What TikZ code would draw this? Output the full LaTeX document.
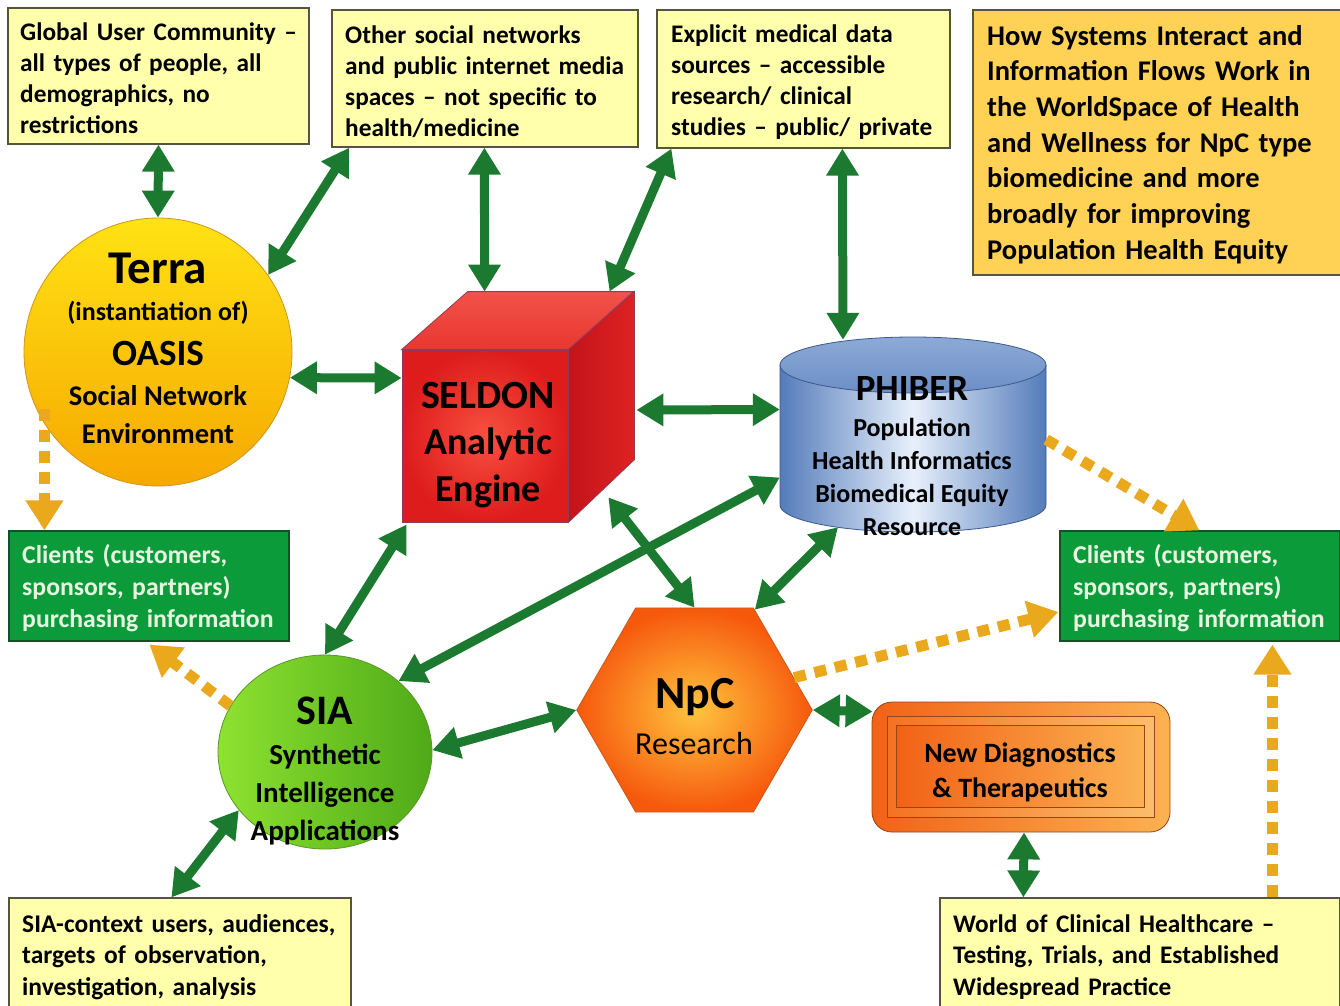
\documentclass[tikz,border=0pt]{standalone}
\usepackage{fontspec}
\setmainfont{Carlito}
\usetikzlibrary{arrows.meta,calc,shapes.geometric}
\definecolor{ylw}{RGB}{255,255,172}
\definecolor{ybord}{RGB}{85,85,60}
\definecolor{ttl}{RGB}{255,210,85}
\definecolor{gfill}{RGB}{12,155,58}
\definecolor{gbord}{RGB}{20,80,35}
\definecolor{gtext}{RGB}{232,245,225}
\definecolor{garr}{RGB}{28,122,48}
\definecolor{oarr}{RGB}{234,168,28}
\definecolor{terraA}{RGB}{255,226,20}
\definecolor{terraB}{RGB}{246,168,0}
\definecolor{terraL}{RGB}{205,150,30}
\definecolor{redA}{RGB}{248,80,64}
\definecolor{redB}{RGB}{222,28,28}
\definecolor{redTop}{RGB}{242,82,72}
\definecolor{redTop2}{RGB}{232,55,48}
\definecolor{redSide}{RGB}{195,20,26}
\definecolor{redSide2}{RGB}{222,34,34}
\definecolor{redL}{RGB}{140,60,90}
\definecolor{blueA}{RGB}{84,124,186}
\definecolor{blueB}{RGB}{232,240,252}
\definecolor{blueTop}{RGB}{140,170,214}
\definecolor{blueTop2}{RGB}{108,142,198}
\definecolor{blueL}{RGB}{60,88,140}
\definecolor{orgA}{RGB}{255,196,62}
\definecolor{orgB}{RGB}{246,88,12}
\definecolor{orgL}{RGB}{200,90,30}
\definecolor{ndA}{RGB}{242,98,22}
\definecolor{ndB}{RGB}{252,178,82}
\definecolor{ndL}{RGB}{150,70,25}
\definecolor{siaA}{RGB}{142,226,48}
\definecolor{siaB}{RGB}{78,170,24}
\definecolor{siaL}{RGB}{90,150,40}
\begin{document}
\begin{tikzpicture}[x=1pt,y=1pt,
  ybox/.style={draw=ybord, line width=1.2pt, fill=ylw, inner sep=0pt},
  tbox/.style={draw=ybord, line width=1.2pt, fill=ttl, inner sep=0pt},
  gbox/.style={draw=gbord, line width=1.2pt, fill=gfill, inner sep=0pt},
  txt/.style={inner sep=0pt, anchor=base west, text width=400pt, align=left,
     font=\bfseries\fontsize{25.3}{31}\selectfont},
  ctxt/.style={inner sep=0pt, anchor=base, font=\bfseries},
  garrow/.style={draw=garr, line width=9pt,
     arrows={Triangle[width=31pt,length=27pt]-Triangle[width=31pt,length=27pt]}},
  oarrow/.style={draw=oarr, line width=11pt, dash pattern=on 12pt off 9pt,
     arrows={-Triangle[width=36pt,length=30pt]}}
]
\useasboundingbox (0,0) rectangle (1340,-1005);
\fill[white] (0,0) rectangle (1340,-1005);

% ---------- boxes ----------
\node[ybox, minimum width=301pt, minimum height=136pt] (global) at (158.5,-76) {};
\node[ybox, minimum width=306pt, minimum height=137pt] (other) at (485,-78.5) {};
\node[ybox, minimum width=293pt, minimum height=138pt] (explicit) at (803.5,-79) {};
\node[tbox, minimum width=369pt, minimum height=265pt] (title) at (1157.5,-142.5) {};
\node[gbox, minimum width=280pt, minimum height=110pt] (clientsL) at (149,-586) {};
\node[gbox, minimum width=280pt, minimum height=110pt] (clientsR) at (1200,-586) {};
\node[ybox, minimum width=342pt, minimum height=112pt] (siactx) at (180,-954) {};
\node[ybox, minimum width=400pt, minimum height=112pt] (world) at (1140,-954) {};

\node[txt] (globalT) at (20,-40) {Global User Community –\\all types of people, all\\demographics, no\\restrictions};
\node[txt] (otherT) at (345,-43) {Other social networks\\and public internet media\\spaces – not specific to\\health/medicine};
\node[txt] (explicitT) at (671,-42) {Explicit medical data\\sources – accessible\\research/ clinical\\studies – public/ private};
\node[txt, font=\bfseries\fontsize{28.5}{35.7}\selectfont] (titleT) at (987,-45) {How Systems Interact and\\Information Flows Work in\\the WorldSpace of Health\\and Wellness for NpC type\\biomedicine and more\\broadly for improving\\Population Health Equity};
\node[txt, text=gtext, font=\bfseries\fontsize{25.7}{32}\selectfont] (clientsLT) at (22,-563) {Clients (customers,\\sponsors, partners)\\purchasing information};
\node[txt, text=gtext, font=\bfseries\fontsize{25.7}{32}\selectfont] (clientsRT) at (1073,-563) {Clients (customers,\\sponsors, partners)\\purchasing information};
\node[txt, font=\bfseries\fontsize{25.5}{31.5}\selectfont] (siactxT) at (22,-932) {SIA-context users, audiences,\\targets of observation,\\investigation, analysis};
\node[txt, font=\bfseries\fontsize{25.3}{31.5}\selectfont] (worldT) at (953,-932) {World of Clinical Healthcare –\\Testing, Trials, and Established\\Widespread Practice};

% ---------- Terra ----------
\node[circle, minimum size=268pt, inner sep=0pt, draw=terraL, line width=0.8pt,
      top color=terraA, bottom color=terraB] (terra) at (158,-352) {};
\node[ctxt, font=\bfseries\fontsize{47}{50}\selectfont] (terraT1) at (158,-283) {Terra};
\node[ctxt, font=\bfseries\fontsize{26}{30}\selectfont] (terraT2) at (158,-320) {(instantiation of)};
\node[ctxt, font=\bfseries\fontsize{37}{40}\selectfont] (terraT3) at (158,-365) {OASIS};
\node[ctxt, font=\bfseries\fontsize{28.5}{32}\selectfont] (terraT4) at (158,-405) {Social Network};
\node[ctxt, font=\bfseries\fontsize{28.5}{32}\selectfont] (terraT5) at (158,-443) {Environment};

% ---------- SELDON cube ----------
\node[rectangle, minimum width=166pt, minimum height=172pt, inner sep=0pt,
      draw=redL, line width=0.8pt, inner color=redA, outer color=redB] (seldon) at (485,-436) {};
\shade[top color=redTop, bottom color=redTop2, draw=redL, line width=0.8pt]
  (seldon.north west) -- ++(66,58) -- ++(166,0) -- (seldon.north east) -- cycle;
\shade[left color=redSide, right color=redSide2, draw=redL, line width=0.8pt]
  (seldon.north east) -- ++(66,58) -- ++(0,-168) -- (seldon.south east) -- cycle;
\node[ctxt, font=\bfseries\fontsize{40}{44}\selectfont] (seldonT1) at (488,-408) {SELDON};
\node[ctxt, font=\bfseries\fontsize{38}{42}\selectfont] (seldonT2) at (488,-454) {Analytic};
\node[ctxt, font=\bfseries\fontsize{38}{42}\selectfont] (seldonT3) at (488,-501) {Engine};

% ---------- PHIBER cylinder ----------
\node[rectangle, minimum width=266pt, minimum height=195pt, inner sep=0pt] (phiber) at (913,-434.5) {};
\shade[left color=blueA, right color=blueA, middle color=blueB, draw=blueL, line width=0.8pt]
  (780,-365) -- (780,-505) arc[start angle=180, end angle=360, x radius=133, y radius=27] -- (1046,-365) -- cycle;
\shade[top color=blueTop, bottom color=blueTop2, draw=blueL, line width=0.8pt]
  (913,-365) ellipse [x radius=133, y radius=28];
\node[ctxt, font=\bfseries\fontsize{37}{40}\selectfont] (phiberT1) at (912,-400) {PHIBER};
\node[ctxt, font=\bfseries\fontsize{26}{30}\selectfont] (phiberT2) at (912,-436) {Population};
\node[ctxt, font=\bfseries\fontsize{26}{30}\selectfont] (phiberT3) at (912,-469) {Health Informatics};
\node[ctxt, font=\bfseries\fontsize{26}{30}\selectfont] (phiberT4) at (912,-502) {Biomedical Equity};
\node[ctxt, font=\bfseries\fontsize{26}{30}\selectfont] (phiberT5) at (912,-535) {Resource};

% ---------- NpC hexagon ----------
\node[regular polygon, regular polygon sides=6,
      minimum size=235.6pt, inner sep=0pt, draw=orgL, line width=0.8pt,
      inner color=orgA, outer color=orgB] (npc) at (694.5,-710) {};
\node[ctxt, font=\bfseries\fontsize{46}{50}\selectfont] (npcT1) at (695,-708) {NpC};
\node[ctxt, font=\fontsize{32}{36}\selectfont] (npcT2) at (694,-754) {Research};

% ---------- SIA ----------
\node[ellipse, minimum width=214pt, minimum height=194pt, inner sep=0pt,
      draw=siaL, line width=0.8pt, left color=siaA, right color=siaB] (sia) at (325,-752) {};
\node[ctxt, font=\bfseries\fontsize{42}{46}\selectfont] (siaT1) at (325,-724) {SIA};
\node[ctxt, font=\bfseries\fontsize{29}{32}\selectfont] (siaT2) at (325,-764) {Synthetic};
\node[ctxt, font=\bfseries\fontsize{29}{32}\selectfont] (siaT3) at (325,-802) {Intelligence};
\node[ctxt, font=\bfseries\fontsize{29}{32}\selectfont] (siaT4) at (325,-840) {Applications};

% ---------- New Diagnostics ----------
\node[rectangle, rounded corners=20pt, minimum width=298pt, minimum height=130pt, inner sep=0pt,
      draw=ndL, line width=0.8pt, left color=ndA, right color=ndB] (newdiag) at (1021,-767) {};
\shade[left color=ndA!80!ndB, right color=ndB!85!white, draw=ndL, line width=0.8pt]
  ($(newdiag.north west)+(16,-15)$) rectangle ($(newdiag.south east)+(-16,15)$);
\shade[left color=ndA, right color=ndB, draw=ndL, line width=0.8pt]
  ($(newdiag.north west)+(25,-24)$) rectangle ($(newdiag.south east)+(-26,25)$);
\node[ctxt, font=\bfseries\fontsize{28}{32}\selectfont] (ndT1) at (1020,-762) {New Diagnostics};
\node[ctxt, font=\bfseries\fontsize{28}{32}\selectfont] (ndT2) at (1020,-797) {\& Therapeutics};

% ---------- green double arrows ----------
\draw[garrow] (global.south) -- (terra.north);
\draw[garrow] ($(other.south west)+(18,0)$) -- (terra.35);
\draw[garrow] ($(other.south west)+(153,0)$) -- ($(seldon.north west)+(83,58)$);
\draw[garrow] ($(explicit.south west)+(15,0)$) -- ($(seldon.north west)+(208,58)$);
\draw[garrow] ($(explicit.south west)+(186,0)$) -- ($(phiber.north)+(-70,-3)$);
\draw[garrow] (terra.-11) -- ($(seldon.west)+(0,58)$);
\draw[garrow] ($(seldon.east)+(68,26)$) -- ($(phiber.west)+(0,25)$);
\draw[garrow] ($(seldon.south west)+(5,-2)$) -- (sia.north);
\draw[garrow] ($(phiber.west)+(0,-43)$) -- (sia.44);
\draw[garrow] ($(seldon.south east)+(40,25)$) -- (npc.north);
\draw[garrow] ($(phiber.south)+(-75,5)$) -- (npc.59);
\draw[garrow] (sia.1) -- (npc.west);
\draw[garrow] (npc.east) -- ($(newdiag.north west)+(1,-10)$);
\draw[garrow] (sia.214) -- ($(siactx.north west)+(163,0)$);
\draw[garrow] ($(newdiag.south)+(3,0)$) -- ($(world.north west)+(84,0)$);

% ---------- orange dotted arrows ----------
\coordinate (cLtop) at ($(clientsL.north west)+(36,0)$);
\draw[oarrow] (terra.205 -| cLtop) -- (cLtop);
\draw[oarrow] (sia.154) -- ($(clientsL.south west)+(141,-3)$);
\draw[oarrow] ($(phiber.east)+(0,-5)$) -- ($(clientsR.north west)+(140,0)$);
\draw[oarrow] (npc.18) -- ($(clientsR.west)+(-1,-26)$);
\draw[oarrow] ($(world.north west)+(333,0)$) -- ($(clientsR.south west)+(213,-3)$);
\end{tikzpicture}
\end{document}
